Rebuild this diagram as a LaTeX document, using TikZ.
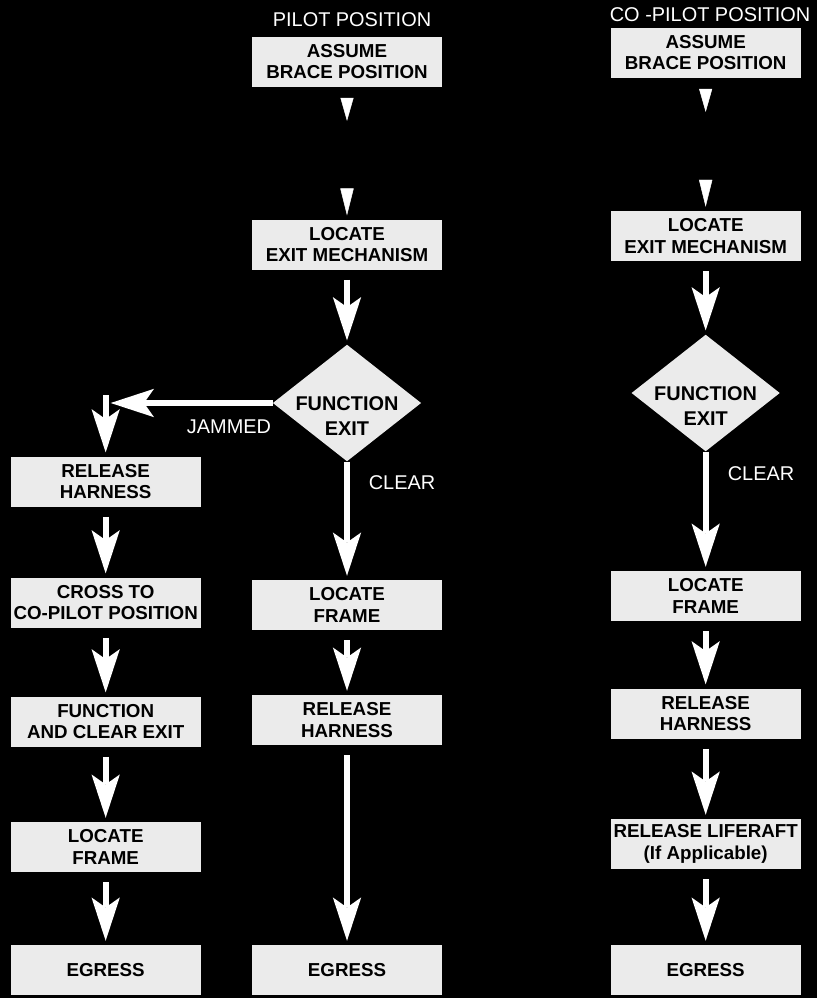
\documentclass[tikz,border=0pt]{standalone}
\usepackage{fontspec}
\setmainfont{Liberation Sans}
\usetikzlibrary{arrows.meta,shapes.geometric}

\begin{document}
\begin{tikzpicture}[
  box/.style={fill=black!8, align=center, inner sep=0pt, minimum width=5.7cm,
              minimum height=1.5cm, font=\fontsize{16}{18.5}\selectfont\bfseries},
  choice/.style={shape=diamond, fill=black!8, inner sep=0pt, minimum width=4.45cm,
                 minimum height=3.5cm},
  choicetext/.style={align=center, font=\fontsize{17}{21}\selectfont\bfseries},
  lbl/.style={text=white, font=\fontsize{17}{20}\selectfont},
  flow/.style={draw=white, line width=5pt,
               -{Stealth[length=1.3cm, width=0.85cm, inset=0.3cm, line width=0pt]},
               shorten <=0.3cm, shorten >=0.12cm},
  stub/.style={draw=white, line width=0.4pt, dash pattern=on 0pt off 40cm,
               {Triangle[reversed, length=0.69cm, width=0.39cm]}-{Triangle[length=0.81cm, width=0.4cm]},
               shorten <=0.33cm, shorten >=0.12cm}
]
\fill[black] (0,0) rectangle (24.51,-29.94);

\node[lbl] (tp) at (10.56,-0.60) {PILOT POSITION};
\node[lbl] (tc) at (21.30,-0.45) {CO -PILOT POSITION};

% pilot
\node[box] (p1) at (10.41,-1.85) {ASSUME\\BRACE POSITION};
\node[box] (p2) at (10.41,-7.34) {LOCATE\\EXIT MECHANISM};
\node[choice] (pd) at (10.41,-12.09) {};
\node[choicetext] (pdt) at ([yshift=-0.39cm]pd.center) {FUNCTION\\EXIT};
\node[box] (p3) at (10.41,-18.15) {LOCATE\\FRAME};
\node[box] (p4) at (10.41,-21.60) {RELEASE\\HARNESS};
\node[box] (p5) at (10.41,-29.10) {EGRESS};

% pilot, exit jammed
\coordinate (jc) at (3.17,-12.09);
\node[box] (l1) at (3.17,-14.45) {RELEASE\\HARNESS};
\node[box] (l2) at (3.17,-18.08) {CROSS TO\\CO-PILOT POSITION};
\node[box] (l3) at (3.17,-21.65) {FUNCTION\\AND CLEAR EXIT};
\node[box] (l4) at (3.17,-25.41) {LOCATE\\FRAME};
\node[box] (l5) at (3.17,-29.10) {EGRESS};

% co-pilot
\node[box] (c1) at (21.17,-1.58) {ASSUME\\BRACE POSITION};
\node[box] (c2) at (21.17,-7.08) {LOCATE\\EXIT MECHANISM};
\node[choice] (cd) at (21.17,-11.79) {};
\node[choicetext] (cdt) at ([yshift=-0.39cm]cd.center) {FUNCTION\\EXIT};
\node[box] (c3) at (21.17,-17.88) {LOCATE\\FRAME};
\node[box] (c4) at (21.17,-21.41) {RELEASE\\HARNESS};
\node[box] (c5) at (21.17,-25.32) {RELEASE LIFERAFT\\(If Applicable)};
\node[box] (c6) at (21.17,-29.10) {EGRESS};

\node[lbl] (jam) at (6.87,-12.81) {JAMMED};
\node[lbl] (pclr) at (12.06,-14.49) {CLEAR};
\node[lbl] (cclr) at (22.83,-14.22) {CLEAR};

\draw[stub] (p1) -- (p2);
\draw[flow] (p2) -- (pd);
\draw[flow, shorten <=0pt] (pd) -- (p3);
\draw[flow] (p3) -- (p4);
\draw[flow] (p4) -- (p5);
\draw[flow, shorten <=0pt, shorten >=0.15cm] (pd) -- (jc);
\draw[flow, shorten <=-0.24cm] (jc) -- (l1);
\draw[flow] (l1) -- (l2);
\draw[flow] (l2) -- (l3);
\draw[flow] (l3) -- (l4);
\draw[flow] (l4) -- (l5);

\draw[stub] (c1) -- (c2);
\draw[flow] (c2) -- (cd);
\draw[flow, shorten <=0pt] (cd) -- (c3);
\draw[flow] (c3) -- (c4);
\draw[flow] (c4) -- (c5);
\draw[flow] (c5) -- (c6);
\end{tikzpicture}
\end{document}
